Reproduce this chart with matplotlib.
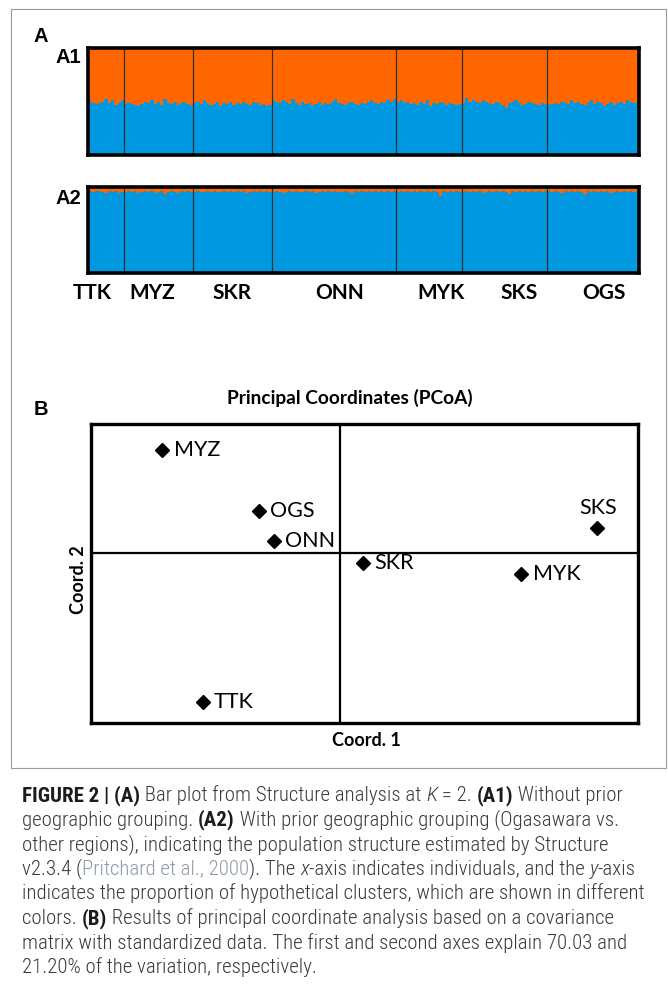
import numpy as np
import matplotlib
matplotlib.use('Agg')
import matplotlib.pyplot as plt
from matplotlib import font_manager
from matplotlib.patches import Rectangle

W, H = 668, 992

populations = ['TTK', 'MYZ', 'SKR', 'ONN', 'MYK', 'SKS', 'OGS']

# membership in cluster 1 (blue), percent per individual -- A1, no prior grouping
a1_TTK = [51, 49, 48, 49, 50, 52, 49, 51, 47, 49, 51]
a1_MYZ = [48, 49, 48, 47, 46, 48, 50, 49, 51, 48, 50, 47, 52, 49, 48, 50, 47, 49, 50, 48, 47]
a1_SKR = [49, 50, 48, 51, 49, 47, 48, 50, 46, 49, 48, 50, 47, 49, 48, 50, 48, 47, 50, 49, 47, 48, 46, 47]
a1_ONN = [51, 50, 49, 51, 50, 48, 52, 49, 47, 50, 48, 49, 46, 48, 50, 47, 49, 48, 50, 52, 49, 48, 47, 49, 50,
          48, 47, 49, 48, 50, 51, 49, 48, 50, 49, 51, 50, 52]
a1_MYK = [50, 51, 49, 50, 48, 49, 47, 50, 48, 51, 46, 49, 48, 50, 49, 47, 49, 48, 47, 48]
a1_SKS = [49, 53, 50, 51, 50, 49, 51, 50, 49, 48, 50, 49, 47, 44, 49, 50, 51, 49, 47, 48, 50, 49, 48, 47, 49, 48]
a1_OGS = [47, 48, 49, 48, 50, 49, 48, 51, 49, 50, 48, 47, 49, 51, 48, 50, 49, 46, 48, 50, 47, 49, 50, 48, 51,
          50, 49, 49]

# A2, prior grouping Ogasawara vs. other regions
a2_TTK = [95, 94, 95, 95, 94, 93, 95, 94, 95, 93, 94]
a2_MYZ = [94, 95, 94, 95, 93, 94, 95, 94, 95, 93, 94, 95, 92, 94, 95, 94, 93, 95, 94, 95, 94]
a2_SKR = [94, 95, 94, 94, 95, 94, 95, 94, 94, 95, 94, 95, 94, 95, 94, 95, 93, 94, 95, 94, 95, 94, 95, 94]
a2_ONN = [94, 95, 94, 93, 94, 95, 94, 95, 94, 94, 95, 94, 95, 93, 94, 95, 94, 95, 94, 95, 94, 94, 95, 94, 93,
          95, 94, 95, 94, 95, 94, 95, 94, 95, 94, 95, 94, 95]
a2_MYK = [94, 95, 94, 95, 94, 95, 94, 95, 94, 95, 94, 95, 94, 90, 95, 94, 95, 94, 95, 94]
a2_SKS = [94, 95, 94, 95, 94, 95, 93, 94, 95, 94, 95, 94, 95, 94, 92, 95, 94, 95, 94, 95, 94, 95, 94, 95, 94, 95]
a2_OGS = [95, 94, 95, 94, 93, 95, 94, 95, 94, 95, 94, 92, 95, 94, 95, 94, 95, 94, 95, 93, 94, 95, 94, 95, 94,
          95, 94, 95]

# PCoA scores
pcoa_pops = ['MYZ', 'OGS', 'ONN', 'SKS', 'SKR', 'MYK', 'TTK']
coord1 = [-1.78, -0.815, -0.665, 2.565, 0.225, 1.81, -1.375]
coord2 = [1.03, 0.42, 0.12, 0.25, -0.10, -0.21, -1.49]

BLUE = '#0098e1'
ORANGE = '#ff6600'

names = {f.name for f in font_manager.fontManager.ttflist}
LABEL_FONT = 'Lato' if 'Lato' in names else 'DejaVu Sans'
HEAD_FONT = 'Liberation Sans' if 'Liberation Sans' in names else 'DejaVu Sans'
CAP_FONT = HEAD_FONT
for cand in ['Roboto Condensed', 'Liberation Sans Narrow', 'Open Sans Condensed', 'Roboto']:
    if cand in names:
        CAP_FONT = cand
        break

fig = plt.figure(figsize=(W / 100, H / 100), dpi=100)


def px_axes(x0, y0, x1, y1):
    return fig.add_axes([x0 / W, 1 - y1 / H, (x1 - x0) / W, (y1 - y0) / H])


def px_text(x, y, s, **kw):
    return fig.text(x / W, 1 - y / H, s, **kw)


def structure_panel(ax, groups):
    q = np.concatenate([np.array(g) / 100.0 for g in groups])
    n = len(q)
    edges = np.arange(n + 1)
    ax.stairs(q, edges, baseline=0, fill=True, color=BLUE, lw=0)
    ax.stairs(np.ones(n), edges, baseline=q, fill=True, color=ORANGE, lw=0)
    for b in np.cumsum([len(g) for g in groups])[:-1]:
        ax.axvline(b, color='#303030', lw=0.9)
    ax.set_xlim(0, n)
    ax.set_ylim(0, 1)
    ax.set_xticks([])
    ax.set_yticks([])
    for s in ax.spines.values():
        s.set_linewidth(2.6)


# outer frame of the figure block
fig.add_artist(Rectangle((11 / W, 1 - 768 / H), (666 - 11) / W, (768 - 9) / H,
                         transform=fig.transFigure, fill=False, ec='#9a9a9a', lw=0.8))

# ---- A: Structure bar plots
ax1 = px_axes(88, 48, 639, 155)
structure_panel(ax1, [a1_TTK, a1_MYZ, a1_SKR, a1_ONN, a1_MYK, a1_SKS, a1_OGS])
ax2 = px_axes(88, 187, 639, 273)
structure_panel(ax2, [a2_TTK, a2_MYZ, a2_SKR, a2_ONN, a2_MYK, a2_SKS, a2_OGS])

px_text(34, 42, 'A', family=HEAD_FONT, weight='bold', fontsize=14.5, va='baseline')
px_text(56, 63, 'A1', family=HEAD_FONT, weight='bold', fontsize=14.5, va='baseline')
px_text(56, 204, 'A2', family=HEAD_FONT, weight='bold', fontsize=14.5, va='baseline')

label_x = [92, 152, 232, 340, 441, 519, 604]
for name, x in zip(populations, label_x):
    px_text(x, 293, name, family=LABEL_FONT, weight='bold', fontsize=15, ha='center', va='center')

# ---- B: PCoA
axb = px_axes(91, 424, 638, 723)
axb.axvline(0, color='black', lw=1.6)
axb.axhline(0, color='black', lw=1.6)
axb.plot(coord1, coord2, 'D', color='black', ms=7, ls='none')
for name, cx, cy in zip(pcoa_pops, coord1, coord2):
    if name == 'SKS':
        axb.annotate(name, (cx, cy), xytext=(1, 14.5), textcoords='offset points',
                     ha='center', va='center', family=LABEL_FONT, fontsize=15.5)
    else:
        axb.annotate(name, (cx, cy), xytext=(8, 0), textcoords='offset points',
                     ha='left', va='center', family=LABEL_FONT, fontsize=15.5)
axb.set_xlim(-2.495, 2.975)
axb.set_ylim(-1.70, 1.29)
axb.set_xticks([])
axb.set_yticks([])
for s in axb.spines.values():
    s.set_linewidth(2.4)

px_text(34, 415, 'B', family=HEAD_FONT, weight='bold', fontsize=14.5, va='baseline')
px_text(350, 398, 'Principal Coordinates (PCoA)', family=LABEL_FONT, weight='bold',
        fontsize=13.8, ha='center', va='center')
px_text(366, 740, 'Coord. 1', family=LABEL_FONT, weight='bold', fontsize=13, ha='center', va='center')
px_text(78, 580, 'Coord. 2', family=LABEL_FONT, weight='bold', fontsize=13, ha='center', va='center',
        rotation=90)

# ---- caption
reg = dict(family=CAP_FONT, color='#3a3a3a', weight='light')
bold = dict(family=CAP_FONT, color='#1c1c1c', weight='bold')
ital = dict(family=CAP_FONT, color='#3a3a3a', weight='light', style='italic')
link = dict(family=CAP_FONT, color='#8e9aab', weight='light')

caption = [
    [('FIGURE 2 | (A)', bold), (' Bar plot from Structure analysis at ', reg), ('K', ital),
     (' = 2. ', reg), ('(A1)', bold), (' Without prior', reg)],
    [('geographic grouping. ', reg), ('(A2)', bold), (' With prior geographic grouping (Ogasawara vs.', reg)],
    [('other regions), indicating the population structure estimated by Structure', reg)],
    [('v2.3.4 (', reg), ('Pritchard et al., 2000', link), ('). The ', reg), ('x', ital),
     ('-axis indicates individuals, and the ', reg), ('y', ital), ('-axis', reg)],
    [('indicates the proportion of hypothetical clusters, which are shown in different', reg)],
    [('colors. ', reg), ('(B)', bold), (' Results of principal coordinate analysis based on a covariance', reg)],
    [('matrix with standardized data. The first and second axes explain 70.03 and', reg)],
    [('21.20% of the variation, respectively.', reg)],
]

renderer = fig.canvas.get_renderer()
probe = px_text(0, 0, caption[4][0][0], fontsize=12, **reg)
cap_size = 12 * 625 / probe.get_window_extent(renderer=renderer).width
probe.remove()

for i, runs in enumerate(caption):
    x = 22
    y = 801 + 24.6 * i
    for s, style in runs:
        t = px_text(x, y, s, fontsize=cap_size, va='baseline', ha='left', **style)
        x += t.get_window_extent(renderer=renderer).width

fig.savefig('out.png', dpi=100)
